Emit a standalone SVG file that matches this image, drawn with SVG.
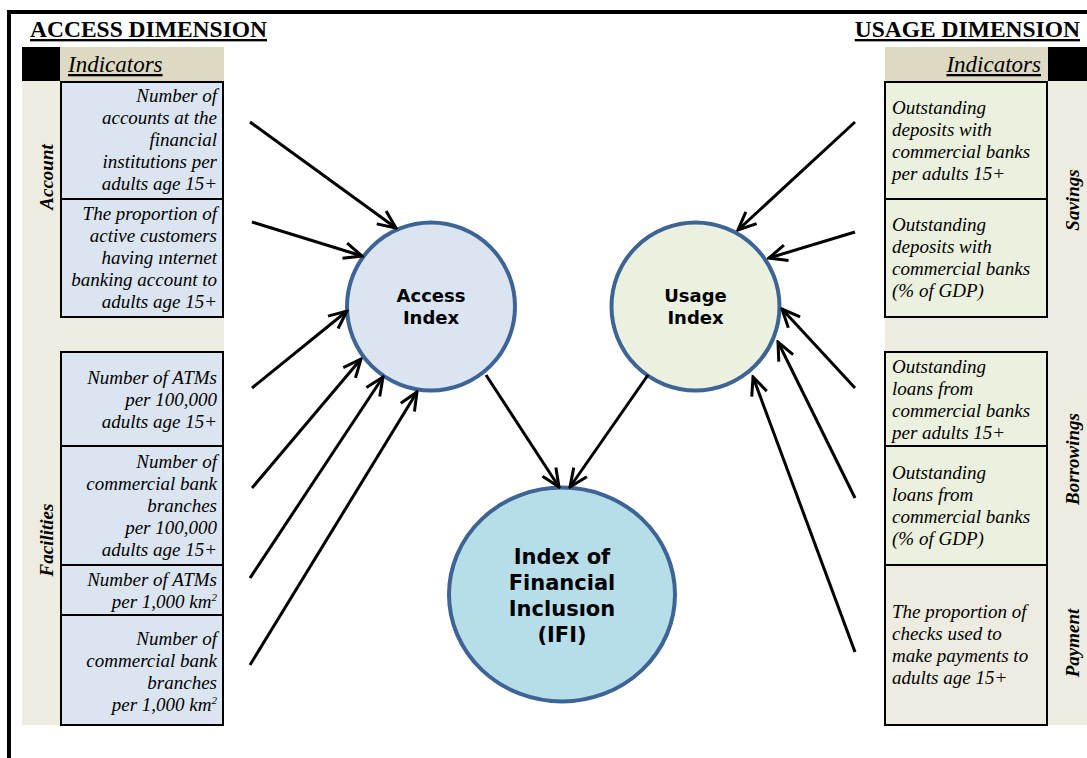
<svg xmlns="http://www.w3.org/2000/svg" width="1087" height="758" viewBox="0 0 1087 758">
<defs>
<style>
.title{font-family:"Liberation Serif","Times New Roman",serif;font-weight:bold;font-size:23.5px;text-decoration:underline;fill:#000}
.hdr{font-family:"Liberation Serif","Times New Roman",serif;font-style:italic;font-size:23px;text-decoration:underline;fill:#000}
.ind{font-family:"Liberation Serif","Times New Roman",serif;font-style:italic;font-size:19px;fill:#000}
.r{text-anchor:end}
.side{font-family:"Liberation Serif","Times New Roman",serif;font-style:italic;font-weight:bold;font-size:19px;text-anchor:middle;fill:#000}
.box{stroke:#000;stroke-width:2}
.blue{fill:#dbe5f1}
.green{fill:#ebf1de}
.beige{fill:#eeece1}
.circ{stroke:#3e6496;stroke-width:4}
.ct{font-family:"DejaVu Sans",Verdana,sans-serif;font-weight:bold;text-anchor:middle;fill:#000}
.conn line{stroke:#000;stroke-width:3;fill:none}
</style>
<marker id="ah" markerUnits="userSpaceOnUse" viewBox="0 0 22 20" refX="20" refY="10" markerWidth="22" markerHeight="20" orient="auto">
<path d="M2,2 L20,10 L2,18" fill="none" stroke="#000" stroke-width="3" stroke-linejoin="miter"/>
</marker>
</defs>
<rect x="0" y="0" width="1087" height="758" fill="#fff"/>
<g id="frame">
<line x1="7" y1="12" x2="1087" y2="12" stroke="#000" stroke-width="4"/>
<line x1="9" y1="10" x2="9" y2="758" stroke="#000" stroke-width="4"/>
</g>
<g id="access-dimension">
<text class="title" x="30" y="37">ACCESS DIMENSION</text>
<rect x="22" y="47" width="38" height="34" fill="#000"/>
<rect x="60" y="47" width="164" height="34" fill="#ddd9c3"/>
<text class="hdr" x="68" y="72">Indicators</text>
<rect x="22" y="81" width="202" height="644" class="beige"/>
<text class="side" transform="translate(53,177) rotate(-90)">Account</text>
<text class="side" transform="translate(53,540) rotate(-90)">Facilities</text>
</g>
<g id="a1">
<rect x="61" y="82" width="162" height="117" class="box blue"/>
<text class="ind r" x="217"><tspan x="217" y="102">Number of</tspan><tspan x="217" y="124">accounts at the</tspan><tspan x="217" y="146">financial</tspan><tspan x="217" y="168">institutions per</tspan><tspan x="217" y="190">adults age 15+</tspan></text>
</g>
<g id="a2">
<rect x="61" y="199" width="162" height="118" class="box blue"/>
<text class="ind r" x="217"><tspan x="217" y="220">The proportion of</tspan><tspan x="217" y="242">active customers</tspan><tspan x="217" y="264">having ınternet</tspan><tspan x="217" y="286">banking account to</tspan><tspan x="217" y="308">adults age 15+</tspan></text>
</g>
<g id="a3">
<rect x="61" y="352" width="162" height="94" class="box blue"/>
<text class="ind r" x="217"><tspan x="217" y="384">Number of ATMs</tspan><tspan x="217" y="406">per 100,000</tspan><tspan x="217" y="428">adults age 15+</tspan></text>
</g>
<g id="a4">
<rect x="61" y="446" width="162" height="119" class="box blue"/>
<text class="ind r" x="217"><tspan x="217" y="468">Number of</tspan><tspan x="217" y="490">commercial bank</tspan><tspan x="217" y="512">branches</tspan><tspan x="217" y="534">per 100,000</tspan><tspan x="217" y="556">adults age 15+</tspan></text>
</g>
<g id="a5">
<rect x="61" y="565" width="162" height="50" class="box blue"/>
<text class="ind r" x="217" y="586">Number of ATMs</text>
<text class="ind r" x="217" y="608">per 1,000 km<tspan font-size="11" dy="-7">2</tspan></text>
</g>
<g id="a6">
<rect x="61" y="615" width="162" height="110" class="box blue"/>
<text class="ind r" x="217"><tspan x="217" y="645">Number of</tspan><tspan x="217" y="667">commercial bank</tspan><tspan x="217" y="689">branches</tspan></text>
<text class="ind r" x="217" y="711">per 1,000 km<tspan font-size="11" dy="-7">2</tspan></text>
</g>
<g id="usage-dimension">
<text class="title" x="1080" y="37" text-anchor="end">USAGE DIMENSION</text>
<rect x="885" y="47" width="163" height="34" fill="#ddd9c3"/>
<rect x="1048" y="47" width="39" height="34" fill="#000"/>
<text class="hdr" x="1041" y="72" text-anchor="end">Indicators</text>
<rect x="885" y="81" width="202" height="644" class="beige"/>
<text class="side" transform="translate(1079,200) rotate(-90)">Savings</text>
<text class="side" transform="translate(1079,459) rotate(-90)">Borrowings</text>
<text class="side" transform="translate(1079,643) rotate(-90)">Payment</text>
</g>
<g id="u1">
<rect x="885" y="82" width="162" height="117" class="box green"/>
<text class="ind" x="892"><tspan x="892" y="114">Outstanding</tspan><tspan x="892" y="136">deposits with</tspan><tspan x="892" y="158">commercial banks</tspan><tspan x="892" y="180">per adults 15+</tspan></text>
</g>
<g id="u2">
<rect x="885" y="199" width="162" height="118" class="box green"/>
<text class="ind" x="892"><tspan x="892" y="231">Outstanding</tspan><tspan x="892" y="253">deposits with</tspan><tspan x="892" y="275">commercial banks</tspan><tspan x="892" y="297">(% of GDP)</tspan></text>
</g>
<g id="u3">
<rect x="885" y="352" width="162" height="94" class="box green"/>
<text class="ind" x="892"><tspan x="892" y="373">Outstanding</tspan><tspan x="892" y="395">loans from</tspan><tspan x="892" y="417">commercial banks</tspan><tspan x="892" y="439">per adults 15+</tspan></text>
</g>
<g id="u4">
<rect x="885" y="446" width="162" height="119" class="box green"/>
<text class="ind" x="892"><tspan x="892" y="479">Outstanding</tspan><tspan x="892" y="501">loans from</tspan><tspan x="892" y="523">commercial banks</tspan><tspan x="892" y="545">(% of GDP)</tspan></text>
</g>
<g id="u5">
<rect x="885" y="565" width="162" height="160" class="box beige"/>
<text class="ind" x="892"><tspan x="892" y="618">The proportion of</tspan><tspan x="892" y="640">checks used to</tspan><tspan x="892" y="662">make payments to</tspan><tspan x="892" y="684">adults age 15+</tspan></text>
</g>
<g id="access-index">
<circle cx="431" cy="306.5" r="84" class="circ" fill="#dbe5f1"/>
<text class="ct" font-size="18" x="431" y="302">Access</text>
<text class="ct" font-size="18" x="431" y="324">Index</text>
</g>
<g id="usage-index">
<circle cx="695.5" cy="306.5" r="84" class="circ" fill="#ebf1de"/>
<text class="ct" font-size="18" x="695.5" y="302">Usage</text>
<text class="ct" font-size="18" x="695.5" y="324">Index</text>
</g>
<g id="ifi">
<ellipse cx="562" cy="594.5" rx="113" ry="107" class="circ" fill="#b7dde8"/>
<text class="ct" font-size="21" x="562" y="564">Index of</text>
<text class="ct" font-size="21" x="562" y="590">Financial</text>
<text class="ct" font-size="21" x="562" y="616">Inclusıon</text>
<text class="ct" font-size="21" x="562" y="642">(IFI)</text>
</g>
<g class="conn" id="connectors">
<line x1="250" y1="122" x2="396" y2="228" marker-end="url(#ah)"/>
<line x1="252" y1="222" x2="362" y2="256" marker-end="url(#ah)"/>
<line x1="252" y1="388" x2="347" y2="311" marker-end="url(#ah)"/>
<line x1="252" y1="488" x2="361" y2="359" marker-end="url(#ah)"/>
<line x1="250" y1="578" x2="383" y2="377" marker-end="url(#ah)"/>
<line x1="250" y1="665" x2="417" y2="392" marker-end="url(#ah)"/>
<line x1="486" y1="375" x2="559" y2="487" marker-end="url(#ah)"/>
<line x1="648" y1="375" x2="570" y2="487" marker-end="url(#ah)"/>
<line x1="855" y1="122" x2="738" y2="230" marker-end="url(#ah)"/>
<line x1="855" y1="232" x2="769" y2="258" marker-end="url(#ah)"/>
<line x1="855" y1="388" x2="782" y2="309" marker-end="url(#ah)"/>
<line x1="855" y1="498" x2="778" y2="342" marker-end="url(#ah)"/>
<line x1="855" y1="652" x2="753" y2="377" marker-end="url(#ah)"/>
</g>
</svg>
